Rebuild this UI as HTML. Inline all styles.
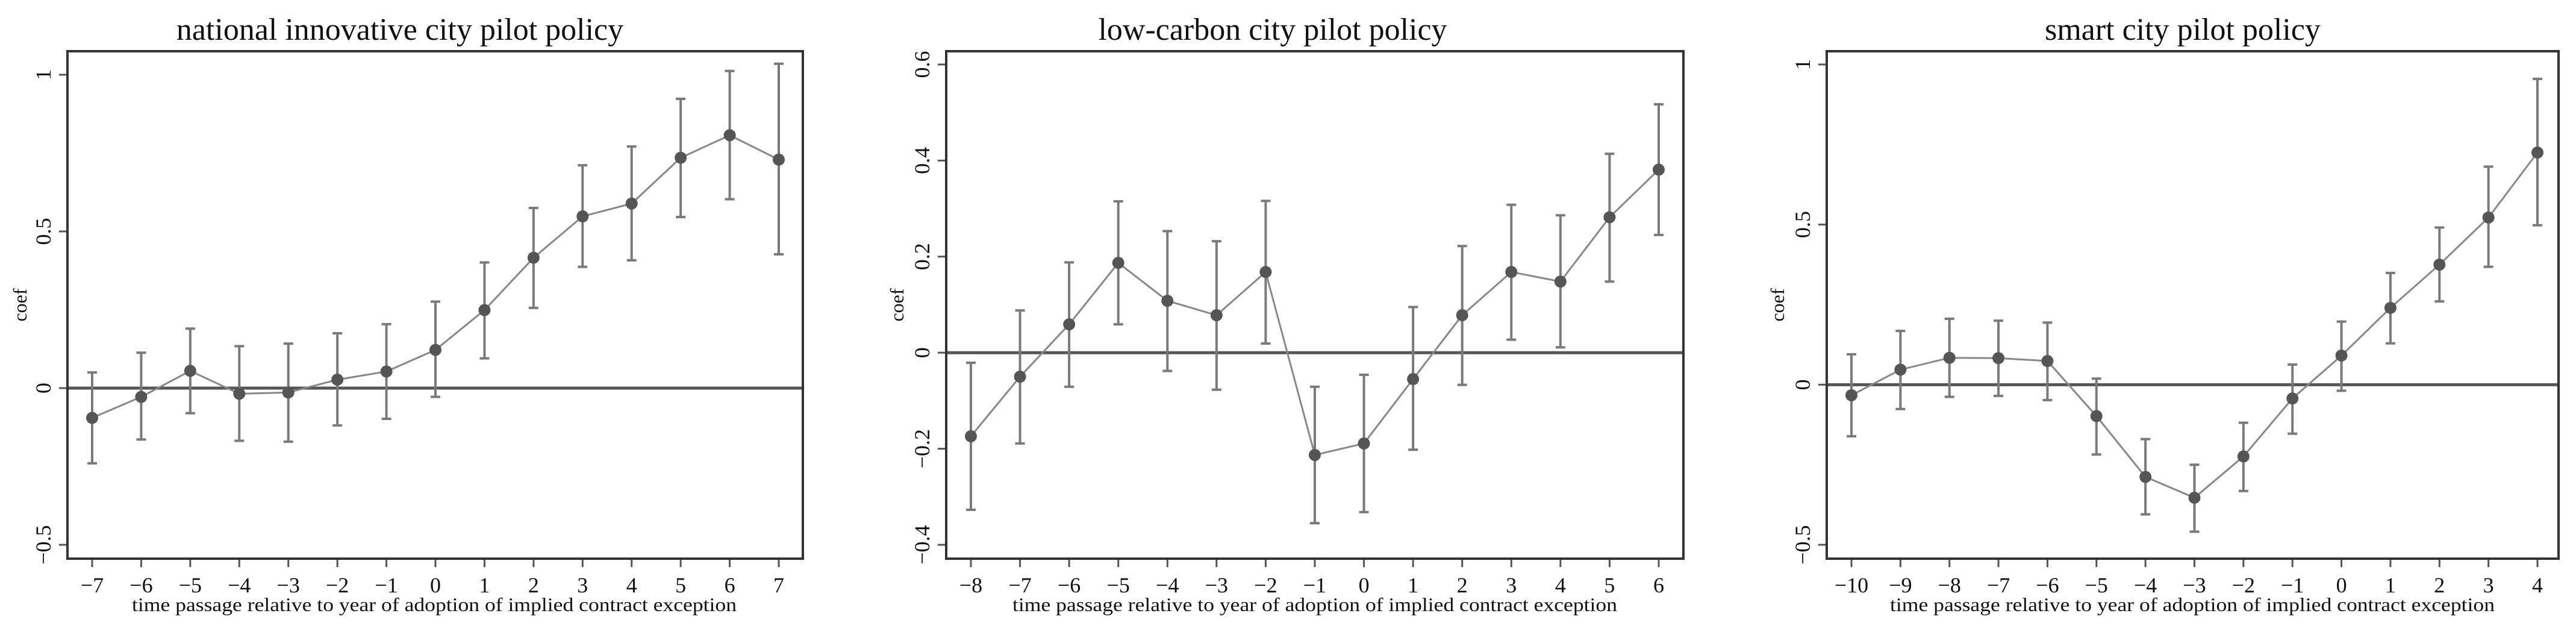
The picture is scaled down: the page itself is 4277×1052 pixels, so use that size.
<!DOCTYPE html>
<html><head><meta charset="utf-8">
<style>
html,body{margin:0;padding:0;background:#fff;}
svg{display:block;}
text{font-family:"Liberation Serif",serif;fill:#111;}
</style></head>
<body>
<svg id="fig" width="4277" height="1052" viewBox="0 0 4277 1052" xmlns="http://www.w3.org/2000/svg"></svg>
<script>
// Panel 1: national innovative city pilot policy
const p1Periods = [-7,-6,-5,-4,-3,-2,-1,0,1,2,3,4,5,6,7];
const p1Coef  = [-0.095,-0.028,0.055,-0.018,-0.014,0.027,0.053,0.122,0.249,0.416,0.548,0.589,0.735,0.807,0.729];
const p1Upper = [0.05,0.113,0.19,0.134,0.142,0.175,0.204,0.276,0.401,0.575,0.711,0.771,0.923,1.012,1.035];
const p1Lower = [-0.24,-0.164,-0.08,-0.168,-0.171,-0.119,-0.098,-0.028,0.095,0.256,0.387,0.408,0.546,0.603,0.427];
const p1YTicks = [-0.5,0,0.5,1];
const p1YTickLabels = ["\u22120.5","0","0.5","1"];

// Panel 2: low-carbon city pilot policy
const p2Periods = [-8,-7,-6,-5,-4,-3,-2,-1,0,1,2,3,4,5,6];
const p2Coef  = [-0.174,-0.05,0.059,0.187,0.108,0.078,0.168,-0.213,-0.189,-0.055,0.078,0.168,0.148,0.282,0.381];
const p2Upper = [-0.021,0.088,0.188,0.315,0.253,0.232,0.316,-0.071,-0.046,0.095,0.222,0.308,0.286,0.414,0.517];
const p2Lower = [-0.327,-0.189,-0.071,0.059,-0.038,-0.077,0.019,-0.355,-0.332,-0.202,-0.067,0.027,0.011,0.148,0.245];
const p2YTicks = [-0.4,-0.2,0,0.2,0.4,0.6];
const p2YTickLabels = ["\u22120.4","\u22120.2","0","0.2","0.4","0.6"];

// Panel 3: smart city pilot policy
const p3Periods = [-10,-9,-8,-7,-6,-5,-4,-3,-2,-1,0,1,2,3,4];
const p3Coef  = [-0.033,0.047,0.084,0.083,0.074,-0.098,-0.288,-0.353,-0.224,-0.043,0.091,0.24,0.375,0.522,0.725];
const p3Upper = [0.095,0.168,0.206,0.2,0.194,0.019,-0.17,-0.25,-0.119,0.063,0.197,0.349,0.491,0.681,0.955];
const p3Lower = [-0.161,-0.076,-0.038,-0.035,-0.048,-0.218,-0.405,-0.459,-0.332,-0.153,-0.019,0.129,0.26,0.368,0.498];
const p3YTicks = [-0.5,0,0.5,1];
const p3YTickLabels = ["\u22120.5","0","0.5","1"];

const NS = "http://www.w3.org/2000/svg";
const svg = document.getElementById("fig");
function mk(tag, attrs, parent){
  const e = document.createElementNS(NS, tag);
  for (const k in attrs) e.setAttribute(k, attrs[k]);
  (parent||svg).appendChild(e);
  return e;
}
function fmtX(v){ return v < 0 ? "\u2212" + Math.abs(v) : String(v); }

function drawPanel(cfg){
  const g = mk("g", {});
  
  
  const {L,R,T,B} = cfg.box;
  const xs = v => cfg.x0px + (v - cfg.periods[0]) * (cfg.x1px - cfg.x0px) / (cfg.periods[cfg.periods.length-1] - cfg.periods[0]);
  const ys = v => cfg.yA.px + (v - cfg.yA.v) * (cfg.yB.px - cfg.yA.px) / (cfg.yB.v - cfg.yA.v);

  const title = mk("text", {x: cfg.titleX, y: 66, "font-size": 52, "text-anchor": "middle"}, g);
  title.textContent = cfg.title;
  
  

  // zero line
  const zl = mk("line", {x1: L, x2: R, y1: ys(0), y2: ys(0), stroke: "#555", "stroke-width": 5}, g);
  
  

  // y ticks
  cfg.yTicks.forEach((t, i) => {
    const y = ys(t);
    const tk = mk("line", {x1: L-14, x2: L, y1: y, y2: y, stroke: "#555", "stroke-width": 3}, g);
    
    
    const lb = mk("text", {x: 0, y: 0, "font-size": 36, "text-anchor": "middle",
      transform: `translate(${L-28},${y}) rotate(-90)`}, g);
    lb.textContent = cfg.yTickLabels[i];
    
    
  });

  // x ticks
  cfg.periods.forEach(p => {
    const x = xs(p);
    const tk = mk("line", {x1: x, x2: x, y1: B, y2: B+14, stroke: "#555", "stroke-width": 3}, g);
    
    
    const lb = mk("text", {x: x, y: 983, "font-size": 36, "text-anchor": "middle"}, g);
    lb.textContent = fmtX(p);
    
    
  });

  // error bars
  cfg.periods.forEach((p, i) => {
    const x = xs(p), yu = ys(cfg.upper[i]), yl = ys(cfg.lower[i]);
    const eb = mk("path", {d: `M${x},${yu}V${yl}M${x-8},${yu}H${x+8}M${x-8},${yl}H${x+8}`,
      stroke: "#7a7a7a", "stroke-width": 4, fill: "none"}, g);
    
    
  });

  // connecting line
  const pts = cfg.periods.map((p, i) => `${xs(p)},${ys(cfg.coef[i])}`).join(" ");
  const pl = mk("polyline", {points: pts, fill: "none", stroke: "#888", "stroke-width": 3}, g);
  
  

  cfg.periods.forEach((p, i) => {
    const c = mk("circle", {cx: xs(p), cy: ys(cfg.coef[i]), r: 10, fill: "#555"}, g);
    
    
  });

  // frame
  const fr = mk("rect", {x: L, y: T, width: R-L, height: B-T, fill: "none", stroke: "#333", "stroke-width": 4}, g);
  
  

  const yt = mk("text", {x: 0, y: 0, "font-size": 32, "text-anchor": "middle",
    transform: `translate(${cfg.yTitleX},${(T+B)/2}) rotate(-90)`}, g);
  yt.textContent = "coef";
  
  

  const xt = mk("text", {x: cfg.xTitleX, y: 1014, "font-size": 32, "text-anchor": "middle",
    textLength: 1004, lengthAdjust: "spacingAndGlyphs"}, g);
  xt.textContent = "time passage relative to year of adoption of implied contract exception";
  
  
}

drawPanel({name: "panel-national-innovative-city", title: "national innovative city pilot policy",
  titleX: 664, box: {L:112, R:1333, T:85, B:927}, x0px: 153, x1px: 1293,
  yA: {v: 1, px: 124}, yB: {v: -0.5, px: 904},
  periods: p1Periods, coef: p1Coef, upper: p1Upper, lower: p1Lower,
  yTicks: p1YTicks, yTickLabels: p1YTickLabels, yTitleX: 44, xTitleX: 721});

drawPanel({name: "panel-low-carbon-city", title: "low-carbon city pilot policy",
  titleX: 2113, box: {L:1571, R:2795, T:85, B:927}, x0px: 1612, x1px: 2754,
  yA: {v: 0.6, px: 107}, yB: {v: -0.4, px: 904},
  periods: p2Periods, coef: p2Coef, upper: p2Upper, lower: p2Lower,
  yTicks: p2YTicks, yTickLabels: p2YTickLabels, yTitleX: 1500, xTitleX: 2183});

drawPanel({name: "panel-smart-city", title: "smart city pilot policy",
  titleX: 3624, box: {L:3033, R:4248, T:85, B:927}, x0px: 3074, x1px: 4213,
  yA: {v: 1, px: 107}, yB: {v: -0.5, px: 904},
  periods: p3Periods, coef: p3Coef, upper: p3Upper, lower: p3Lower,
  yTicks: p3YTicks, yTickLabels: p3YTickLabels, yTitleX: 2962, xTitleX: 3640});
</script>
</body></html>
